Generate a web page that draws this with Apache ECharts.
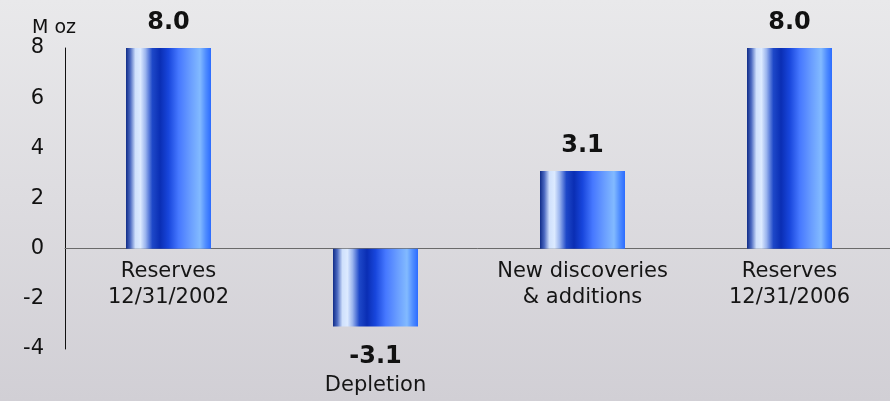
<!DOCTYPE html>
<html>
<head>
<meta charset="utf-8">
<script src="https://cdn.jsdelivr.net/npm/echarts@6/dist/echarts.min.js"></script>
<style>
  html, body { margin: 0; padding: 0; }
  #chart { width: 890px; height: 401px; }
</style>
</head>
<body>
<div id="chart"></div>
<script>
// Gold reserves reconciliation, million ounces
const categories = ['Reserves\n12/31/2002', 'Depletion', 'New discoveries\n& additions', 'Reserves\n12/31/2006'];
const values = [8.0, -3.1, 3.1, 8.0];
const yTicks = [-4, -2, 0, 2, 4, 6, 8];
const unitLabel = 'M oz';

const FONT = '"DejaVu Sans", Verdana, sans-serif';

// shiny cylinder-style fill running left to right across each bar
const barFill = {
  type: 'linear', x: 0, y: 0, x2: 1, y2: 0,
  colorStops: [
    { offset: 0.00, color: '#102c88' },
    { offset: 0.05, color: '#4a68c0' },
    { offset: 0.11, color: '#cfe0fc' },
    { offset: 0.17, color: '#dceaff' },
    { offset: 0.23, color: '#9ab4ee' },
    { offset: 0.31, color: '#1e48c8' },
    { offset: 0.40, color: '#0a2eb4' },
    { offset: 0.50, color: '#1846dc' },
    { offset: 0.62, color: '#4678ff' },
    { offset: 0.76, color: '#6a9eff' },
    { offset: 0.87, color: '#82baff' },
    { offset: 0.94, color: '#4e8cff' },
    { offset: 1.00, color: '#2c6cff' }
  ]
};

const barData = values.map((v, i) => {
  const item = { value: v };
  if (v < 0) {
    item.label = {
      position: 'bottom',
      distance: 16,
      formatter: '{v|' + v.toFixed(1) + '}\n{c|' + categories[i] + '}'
    };
  }
  return item;
});

// category names hang just under the zero line (negative bars carry theirs below the bar)
const nameData = categories.map((c, i) => ({
  value: [i, 0],
  label: { show: values[i] >= 0, formatter: c }
}));

const chart = echarts.init(document.getElementById('chart'), null, { renderer: 'canvas' });
chart.setOption({
  backgroundColor: {
    type: 'linear', x: 0, y: 0, x2: 0, y2: 1,
    colorStops: [
      { offset: 0, color: '#e9e9eb' },
      { offset: 1, color: '#d1cfd5' }
    ]
  },
  animation: false,
  title: {
    text: unitLabel,
    left: 27, top: 14,
    textStyle: { fontFamily: FONT, fontSize: 19, fontWeight: 'normal', color: '#111' }
  },
  grid: { left: 65, right: -3, top: 48, bottom: 52, containLabel: false, outerBoundsMode: 'none' },
  xAxis: {
    type: 'category',
    data: categories,
    axisLine: { onZero: true, lineStyle: { color: '#6a6a6a', width: 1 } },
    axisTick: { show: false },
    axisLabel: { show: false }
  },
  yAxis: {
    type: 'value',
    min: yTicks[0], max: yTicks[yTicks.length - 1], interval: 2,
    axisLine: { show: true, lineStyle: { color: '#111', width: 1 } },
    axisTick: { show: false },
    splitLine: { show: false },
    axisLabel: { margin: 21, fontFamily: FONT, fontSize: 21, color: '#111' }
  },
  series: [{
    type: 'bar',
    data: barData,
    barWidth: 85,
    itemStyle: { color: barFill },
    label: {
      show: true,
      position: 'top',
      distance: 11,
      fontFamily: FONT,
      formatter: p => '{v|' + p.value.toFixed(1) + '}',
      rich: {
        v: { fontFamily: FONT, fontSize: 24, fontWeight: 'bold', color: '#111', lineHeight: 28 },
        c: { fontFamily: FONT, fontSize: 21, color: '#151515', lineHeight: 30 }
      }
    }
  }, {
    type: 'scatter',
    data: nameData,
    symbolSize: 0,
    silent: true,
    z: 5,
    itemStyle: { opacity: 1 },
    label: {
      position: 'bottom',
      distance: 10,
      opacity: 1,
      fontFamily: FONT, fontSize: 21, lineHeight: 26, color: '#151515', align: 'center'
    }
  }]
});
</script>
</body>
</html>
